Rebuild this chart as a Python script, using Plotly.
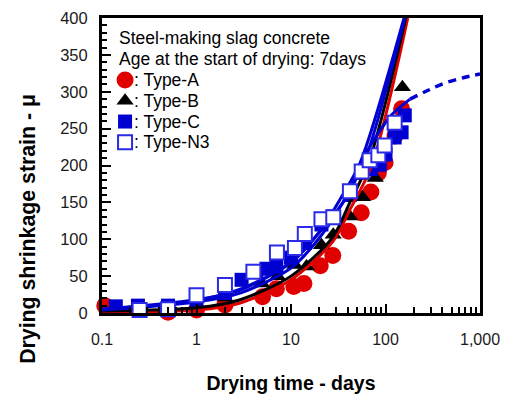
import plotly.graph_objects as go

# ---- measured data (drying time in days, strain in micro) ----
tA = [0.107, 0.5, 1, 2, 5, 7, 10.7, 13.7, 20.4, 27.7, 40.7, 55.4, 70, 84, 99, 126, 148]
vA = [10, 1, 4, 11, 22, 33, 36, 40, 64, 78, 111, 136, 164, 190, 204, 240, 277]

tB = [1, 2, 4.9, 7.2, 11, 14.6, 21, 28, 42, 57, 78, 151]
vB = [9, 21, 40, 50, 65, 63, 92, 106, 131, 157, 183, 306]

tC = [0.14, 0.24, 0.5, 1, 2, 3, 4.3, 5.5, 7, 10, 14, 21, 28, 42, 56, 70, 87, 100, 125, 148, 160]
vC = [9, 10, 10, 15, 27, 45, 57, 60, 63, 75, 95, 120, 131, 160, 190, 195, 201, 215, 238, 245, 268]

tN = [0.25, 0.5, 1, 2, 4, 7.1, 11, 14, 21, 28, 42, 56, 68, 84, 98, 125]
vN = [4, 5, 24, 38, 56, 82, 88, 107, 127, 130, 165, 192, 207, 214, 227, 258]

# fitted curves
tLA = [0.1, 1, 2.9, 10, 27.7, 42, 72, 172]
vLA = [1.5, 4, 13.6, 45, 97, 140, 201, 400]
tLB = [0.1, 1, 2.9, 10, 27.7, 42, 68, 164]
vLB = [2.7, 7, 18, 50, 103, 150, 208, 400]
tLC = [0.1, 1, 2.9, 10, 20, 33, 54, 157]
vLC = [5, 18, 31, 69, 110, 154, 204, 400]
tLN = [0.1, 1, 2.9, 10, 20, 37, 61, 160]
vLN = [4, 15, 27, 61, 102, 154, 208, 400]
tM = [0.1, 1, 3, 10, 17, 39, 58, 115, 182]
vM = [5, 17, 33, 68, 99, 158, 210, 268, 290]
tD = [182, 272, 409, 665, 1000]
vD = [290, 301, 311, 319, 324]

xtick_vals = [0.1, 1, 10, 100, 1000]
xtick_text = ["0.1", "1", "10", "100", "1,000"]
xminor = [m * d for d in [0.1, 1, 10, 100] for m in range(2, 10)]

legend_labels = [": Type-A", ": Type-B", ": Type-C", ": Type-N3"]
header_lines = ["Steel-making slag concrete", "Age at the start of drying: 7days"]

RED = "#e00000"
BLUE = "#0000d0"
NBLUE = "#2a2ae8"
FONT = "Arial, Liberation Sans, sans-serif"

styles = [
    dict(symbol="circle", size=17, color=RED, line=dict(color=RED, width=0)),
    dict(symbol="triangle-up", size=15, color="black", line=dict(color="black", width=0)),
    dict(symbol="square", size=14, color=BLUE, line=dict(color=BLUE, width=0)),
    dict(symbol="square", size=14, color="white", line=dict(color=NBLUE, width=2)),
]

fig = go.Figure()

def markers(t, v, style):
    fig.add_trace(go.Scatter(x=t, y=v, mode="markers", showlegend=False,
                             cliponaxis=False, marker=style))

def curve(t, v, color):
    fig.add_trace(go.Scatter(
        x=t, y=v, mode="lines", showlegend=False,
        line=dict(color=color, width=3, shape="spline", smoothing=0.8)))

markers(tA, vA, styles[0])
markers(tB, vB, styles[1])
markers(tC, vC, styles[2])
curve(tLA, vLA, RED)
curve(tLB, vLB, "black")
curve(tLC, vLC, BLUE)
curve(tLN, vLN, BLUE)
curve(tM, vM, BLUE)
fig.add_trace(go.Scatter(x=tD, y=vD, mode="lines", showlegend=False,
                         line=dict(color=BLUE, width=3.5, dash="8px,6px", shape="spline")))
markers(tN, vN, styles[3])

# ---- hand-made legend (symbol then ": Type-x"), on a hidden 0..1 overlay axis ----
LEG_X0, LEG_Y0, LEG_DY = 0.061, 0.790, 0.0705
annotations = [
    dict(text="<b>Drying shrinkage strain - μ</b>", textangle=-90,
         xref="paper", yref="paper", x=-0.196, y=0.285,
         xanchor="center", yanchor="middle", showarrow=False,
         font=dict(size=21.3, family=FONT)),
]
for i, line in enumerate(header_lines):
    annotations.append(dict(text=line, xref="paper", yref="paper",
                            x=0.04, y=0.932 - i * 0.071, xanchor="left", yanchor="middle",
                            showarrow=False, font=dict(size=17.5, family=FONT)))
for i, (lab, st) in enumerate(zip(legend_labels, styles)):
    yy = LEG_Y0 - i * LEG_DY
    fig.add_trace(go.Scatter(x=[LEG_X0], y=[yy], xaxis="x2", yaxis="y2", mode="markers",
                             showlegend=False, cliponaxis=False, marker=st, hoverinfo="skip"))
    annotations.append(dict(text=lab, xref="paper", yref="paper",
                            x=LEG_X0 + 0.018, y=yy, xanchor="left", yanchor="middle",
                            showarrow=False, font=dict(size=17.5, family=FONT)))

fig.update_layout(
    width=507, height=398,
    margin=dict(l=102, r=27, t=18, b=85),
    paper_bgcolor="white", plot_bgcolor="white",
    font=dict(family=FONT, color="black"),
    showlegend=False,
    xaxis=dict(type="log", range=[-1, 3], tickvals=xtick_vals, ticktext=xtick_text,
               ticks="inside", ticklen=9, tickwidth=2, tickcolor="black",
               showline=True, linewidth=3, linecolor="black", mirror=True,
               showgrid=False, zeroline=False, tickfont=dict(size=16, color="#1a1a1a"),
               ticklabelstandoff=10, automargin=False,
               minor=dict(tickvals=xminor, ticks="inside", ticklen=6, tickwidth=2,
                          tickcolor="black", showgrid=False),
               title=dict(text="<b>Drying time - days</b>", font=dict(size=19.5), standoff=30)),
    yaxis=dict(range=[0, 400], tickvals=[0, 50, 100, 150, 200, 250, 300, 350, 400],
               ticks="inside", ticklen=9, tickwidth=2, tickcolor="black",
               showline=True, linewidth=3, linecolor="black", mirror=True,
               showgrid=False, zeroline=False, tickfont=dict(size=16.5, color="#1a1a1a"),
               ticklabelstandoff=8, automargin=False,
               minor=dict(dtick=10, ticks="inside", ticklen=5, tickwidth=2,
                          tickcolor="black", showgrid=False)),
    xaxis2=dict(overlaying="x", range=[0, 1], visible=False, fixedrange=True),
    yaxis2=dict(overlaying="y", range=[0, 1], visible=False, fixedrange=True),
    annotations=annotations,
)

fig.write_html("out.html")
